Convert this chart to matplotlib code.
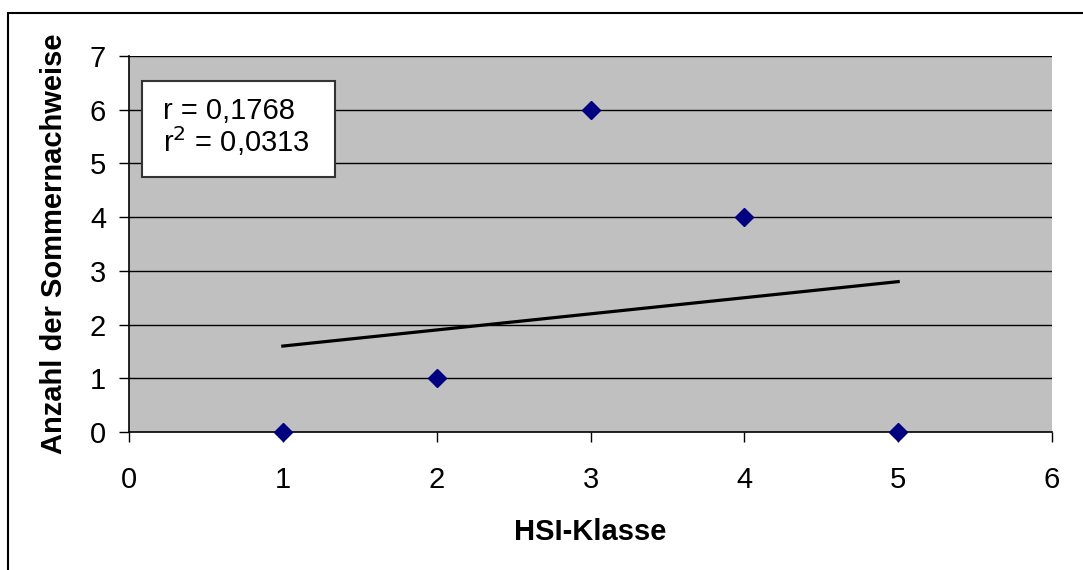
import numpy as np
import matplotlib.pyplot as plt
from matplotlib.patches import Rectangle

plt.rcParams['font.family'] = ['Liberation Sans', 'DejaVu Sans']

# Data
hsi_klasse = [1, 2, 3, 4, 5]
nachweise = [0, 1, 6, 4, 0]
r_text = 'r = 0,1768'
r2_text = 'r$^2$ = 0,0313'

# Linear trend
slope, intercept = np.polyfit(hsi_klasse, nachweise, 1)
x_fit = np.array([min(hsi_klasse), max(hsi_klasse)])
y_fit = slope * x_fit + intercept

fig = plt.figure(figsize=(10.83, 5.70), dpi=100)
ax = fig.add_axes([0.1191, 0.2421, 0.8523, 0.6596])

# outer chart border (only top and left visible)
fig.patches.append(Rectangle((8 / 1083, -0.1), 1.2, 1 - 13 / 570 + 0.1,
                             transform=fig.transFigure, fill=False,
                             edgecolor='black', linewidth=1.5))

ax.set_facecolor('#C0C0C0')
for y in range(1, 8):
    ax.axhline(y, color='black', linewidth=1, zorder=1)

ax.plot(x_fit, y_fit, color='black', linewidth=2.3, zorder=2)
ax.plot(hsi_klasse, nachweise, linestyle='none', marker='D', markersize=9,
        color='#000080', zorder=3, clip_on=False)

ax.set_xlim(0, 6)
ax.set_ylim(0, 7)
ax.set_xticks(range(0, 7))
ax.set_yticks(range(0, 8))
ax.tick_params(direction='out', length=7.5, width=1, labelsize=21)
ax.tick_params(axis='x', pad=17)
ax.tick_params(axis='y', pad=9)
ax.spines['top'].set_visible(False)
ax.spines['right'].set_visible(False)
ax.spines['left'].set_linewidth(1.2)
ax.spines['bottom'].set_linewidth(1.2)

ax.set_xlabel('HSI-Klasse', fontsize=21, fontweight='bold', labelpad=17)
ax.set_ylabel('Anzahl der Sommernachweise', fontsize=21, fontweight='bold', labelpad=16)

# r / r^2 box
ax.add_patch(Rectangle((0.0141, 0.678), 0.2091, 0.2555, transform=ax.transAxes,
                       facecolor='white', edgecolor='#333333', linewidth=1.5,
                       zorder=4))
ax.text(0.0368, 0.832, r_text, transform=ax.transAxes, fontsize=21,
        va='baseline', ha='left', zorder=5)
ax.text(0.0368, 0.745, r2_text, transform=ax.transAxes, fontsize=21,
        va='baseline', ha='left', zorder=5)

fig.savefig('out.png', dpi=100)
